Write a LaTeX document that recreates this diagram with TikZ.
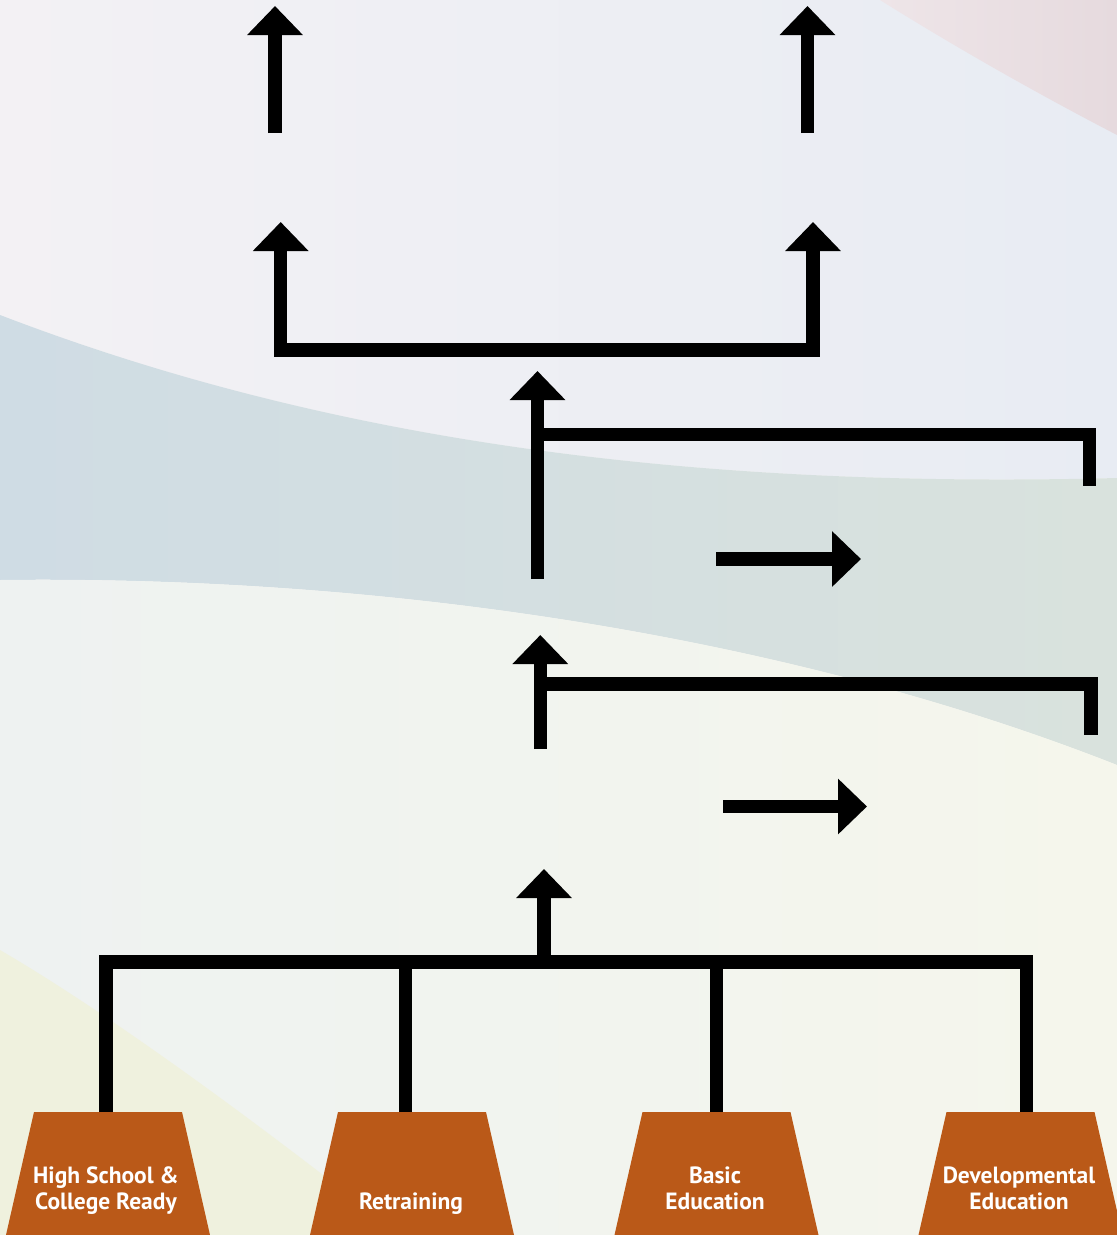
\documentclass[tikz,border=0pt]{standalone}
\usepackage{fontspec}
\newfontfamily\labfont{PT Sans}
\usetikzlibrary{arrows.meta}
\definecolor{rust}{HTML}{BA5918}
\definecolor{bgtop}{HTML}{F4F1F3}
\definecolor{bgbot}{HTML}{F7F8F0}
\definecolor{upl}{HTML}{F3F1F4}
\definecolor{upr}{HTML}{E8ECF3}
\definecolor{pinkl}{HTML}{EEE5E8}
\definecolor{pinkr}{HTML}{E6DADE}
\definecolor{bandl}{HTML}{CFDCE4}
\definecolor{bandr}{HTML}{D9E2DD}
\definecolor{lowl}{HTML}{EEF2F1}
\definecolor{lowr}{HTML}{F5F6EC}
\definecolor{wedge}{HTML}{EFF1DE}
\begin{document}
\begin{tikzpicture}[x=1pt,y=-1pt,
  conn/.style={line width=13.5pt, line join=miter, line cap=butt, draw=black},
  up/.style={conn, -{Triangle[width=54pt,length=29pt]}},
  both/.style={conn, {Triangle[width=54pt,length=29pt]}-{Triangle[width=54pt,length=29pt]}},
  trapfill/.style={fill=rust},
  lab/.style={font=\labfont\bfseries\fontsize{23.5}{26}\selectfont, text=white,
    align=center, inner sep=0pt, text depth=0pt, anchor=south}
]
\useasboundingbox (0,0) rectangle (1117,1235);
% background
\shade[top color=bgtop, bottom color=bgbot] (0,0) rectangle (1117,1235);
\shade[left color=upl, right color=upr] (0,0) -- (1117,0) -- (1117,478)
  .. controls (650,490) and (300,430) .. (0,315) -- cycle;
\shade[left color=pinkl, right color=pinkr] (880,0) .. controls (960,50) and (1040,95) .. (1117,135) -- (1117,0) -- cycle;
\shade[left color=bandl, right color=bandr] (0,315) .. controls (300,430) and (650,490) .. (1117,478)
  -- (1117,765) .. controls (800,640) and (400,575) .. (0,580) -- cycle;
\shade[left color=lowl, right color=lowr] (0,580) .. controls (400,575) and (800,640) .. (1117,765)
  -- (1117,1235) -- (0,1235) -- cycle;
\fill[wedge] (0,950) .. controls (120,1020) and (280,1140) .. (400,1235) -- (0,1235) -- cycle;

% boxes
\foreach \cx in {108,412,716.5,1020.5}
  \fill[trapfill] (\cx-74,1112) -- (\cx+74,1112) -- (\cx+102,1235) -- (\cx-102,1235) -- cycle;
\node[lab] (l1) at (106,1209.5) {High School \&\\College Ready};
\node[lab] (l2) at (411,1209.5) {Retraining};
\node[lab] (l3) at (715,1209.5) {Basic\\Education};
\node[lab] (l4) at (1019,1209.5) {Developmental\\Education};

% coordinates
\coordinate (t1) at (106,1112);
\coordinate (t2) at (405.5,1112);
\coordinate (t3) at (716.5,1112);
\coordinate (t4) at (1026.5,1112);
\coordinate (bus1) at (106,962);
\coordinate (bus2) at (405.5,962);
\coordinate (bus3) at (716.5,962);
\coordinate (bus4) at (1026.5,962);
\coordinate (busm) at (544,962);
\coordinate (e1) at (544,869);

\coordinate (h2s) at (723,806.5);
\coordinate (h2t) at (867,806.5);

\coordinate (d1b) at (540.3,749);
\coordinate (d1t) at (540.3,635);
\coordinate (d1j) at (540.3,684);
\coordinate (d1r) at (1091,684);
\coordinate (d1e) at (1091,735);

\coordinate (h1s) at (716,559);
\coordinate (h1t) at (861,559);

\coordinate (c1b) at (537.5,579);
\coordinate (c1t) at (537.5,371);
\coordinate (c1j) at (537.5,434.5);
\coordinate (c1r) at (1089.5,434.5);
\coordinate (c1e) at (1089.5,486);

\coordinate (b1t) at (280.7,222);
\coordinate (b1c) at (280.7,350);
\coordinate (b2c) at (813,350);
\coordinate (b2t) at (813,222);

\coordinate (a1s) at (275,133);
\coordinate (a1t) at (275,6);
\coordinate (a2s) at (807.5,133);
\coordinate (a2t) at (807.5,6);

% connectors
\draw[conn] (t1) -- (bus1) -- (bus4) -- (t4);
\draw[conn] (bus2) -- (t2);
\draw[conn] (bus3) -- (t3);
\draw[up] (busm) -- (e1);
\draw[up] (h2s) -- (h2t);
\draw[up] (d1b) -- (d1t);
\draw[conn] (d1j) -- (d1r) -- (d1e);
\draw[up] (h1s) -- (h1t);
\draw[up] (c1b) -- (c1t);
\draw[conn] (c1j) -- (c1r) -- (c1e);
\draw[both] (b1t) -- (b1c) -- (b2c) -- (b2t);
\draw[up] (a1s) -- (a1t);
\draw[up] (a2s) -- (a2t);
\end{tikzpicture}
\end{document}
